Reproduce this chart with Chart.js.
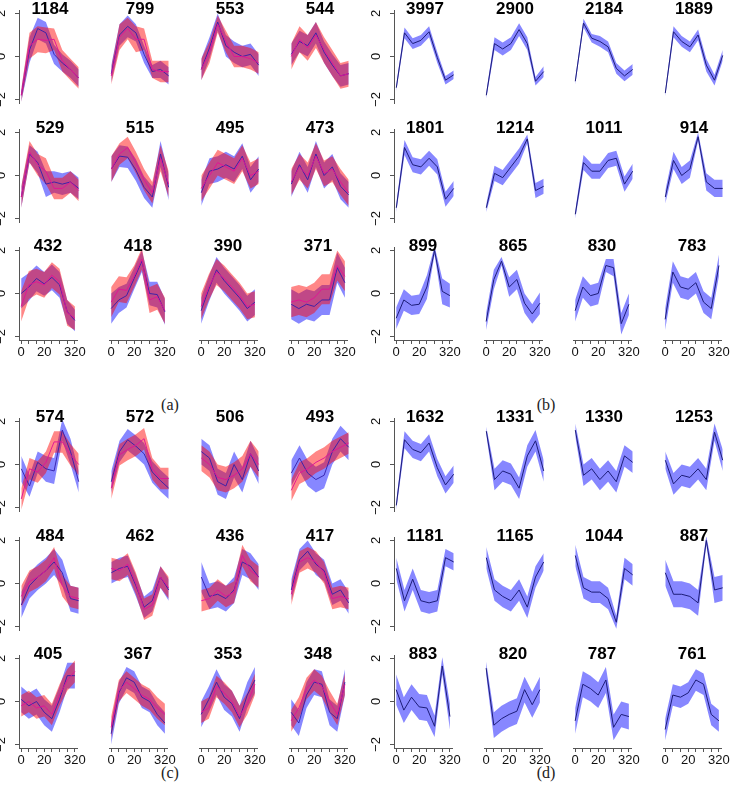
<!DOCTYPE html>
<html>
<head>
<meta charset="utf-8">
<script src="https://cdn.jsdelivr.net/npm/chart.js@4.4.1/dist/chart.umd.min.js"></script>
<style>
body { margin: 0; background: #fff; width: 735px; height: 795px; position: relative; overflow: hidden; }
canvas { position: absolute; }
.cap { position: absolute; font-family: "Liberation Serif", "DejaVu Serif", serif; font-size: 16px; color: #222; transform: translate(-50%, -50%); }
</style>
</head>
<body>
<div class="cap" style="left:170px;top:405px">(a)</div>
<div class="cap" style="left:546px;top:405px">(b)</div>
<div class="cap" style="left:170px;top:773px">(c)</div>
<div class="cap" style="left:546px;top:773px">(d)</div>
<script>
// x positions of the 8 samples and the tick labels R printed under them
const xIdx = [0, 1, 2, 3, 4, 5, 6, 7];
const xTickText = { 0: '0', 3: '20', 7: '320' };
const yTicks = [-2, 0, 2];

// ---- panel (a): two groups, blue and red ----
const aTitles = ['1184', '799', '553', '544', '529', '515', '495', '473', '432', '418', '390', '371'];
const aBlue = [
  [-1.8, 0.3, 1.3, 1.1, 0.1, -0.3, -0.6, -1.0],
  [-0.8, 1.0, 1.4, 1.1, 0.1, -0.7, -0.6, -0.9],
  [-0.6, 0.4, 1.6, 0.5, 0.2, 0.0, 0.1, -0.4],
  [0.1, 0.7, 0.5, 1.1, 0.2, -0.4, -0.9, -0.8],
  [-1.0, 1.0, 0.6, -0.4, -0.3, -0.4, -0.3, -0.6],
  [0.3, 0.9, 0.85, 0.25, -0.55, -1.0, 1.0, -0.55],
  [-0.8, 0.2, 0.3, 0.5, 0.3, 0.9, -0.2, 0.3],
  [-0.4, 0.5, -0.2, 1.0, 0.0, 0.4, -0.5, -0.9],
  [0.0, 0.3, 0.7, 0.45, 0.75, 0.4, -0.85, -1.25],
  [-0.7, -0.3, -0.1, 0.7, 1.5, 0.0, -0.05, -0.85],
  [-0.8, 0.2, 1.1, 0.6, 0.2, -0.2, -0.7, -0.4],
  [-0.5, -0.7, -0.5, -0.6, -0.3, -0.3, 1.2, 0.5]
];
const aBlueSd = [
  [0.3, 0.6, 0.5, 0.5, 0.45, 0.4, 0.4, 0.4],
  [0.4, 0.5, 0.5, 0.4, 0.4, 0.3, 0.4, 0.4],
  [0.5, 0.5, 0.4, 0.5, 0.5, 0.5, 0.5, 0.5],
  [0.5, 0.5, 0.5, 0.5, 0.5, 0.5, 0.5, 0.5],
  [0.5, 0.4, 0.5, 0.6, 0.5, 0.5, 0.5, 0.5],
  [0.6, 0.5, 0.5, 0.5, 0.5, 0.5, 0.6, 0.6],
  [0.6, 0.6, 0.6, 0.6, 0.6, 0.6, 0.6, 0.6],
  [0.6, 0.6, 0.6, 0.6, 0.6, 0.6, 0.6, 0.6],
  [0.7, 0.65, 0.6, 0.55, 0.6, 0.6, 0.55, 0.5],
  [0.7, 0.6, 0.55, 0.5, 0.5, 0.55, 0.6, 0.6],
  [0.6, 0.6, 0.6, 0.6, 0.6, 0.6, 0.6, 0.6],
  [0.7, 0.7, 0.7, 0.7, 0.7, 0.7, 0.7, 0.7]
];
const aRed = [
  [-1.8, 0.5, 0.8, 0.75, 0.8, -0.2, -0.6, -1.0],
  [-0.9, 0.9, 1.3, 0.8, 0.8, -0.6, -0.7, -0.7],
  [-0.6, 0.2, 1.5, 0.7, 0.0, 0.0, -0.1, -0.3],
  [0.0, 0.8, 0.4, 1.0, 0.3, -0.3, -0.9, -0.8],
  [-1.0, 1.1, 0.5, 0.2, -0.6, -0.6, -0.3, -0.7],
  [0.3, 1.0, 1.3, 0.6, -0.2, -0.8, 0.8, -0.4],
  [-0.6, 0.0, 0.6, 0.4, 0.2, 0.8, 0.0, 0.2],
  [-0.3, 0.4, 0.0, 0.9, 0.1, 0.3, -0.3, -0.8],
  [-0.6, 0.4, 0.55, 0.4, 0.85, 0.55, -0.9, -1.15],
  [-0.4, 0.2, 0.15, 0.8, 1.6, -0.3, -0.15, -0.8],
  [-0.6, 0.3, 1.0, 0.7, 0.3, -0.1, -0.6, -0.5],
  [-0.4, -0.3, -0.4, -0.2, 0.2, 0.2, 1.3, 0.8]
];
const aRedSd = [
  [0.3, 0.6, 0.6, 0.6, 0.5, 0.5, 0.5, 0.5],
  [0.4, 0.6, 0.5, 0.6, 0.5, 0.4, 0.5, 0.5],
  [0.5, 0.5, 0.4, 0.5, 0.5, 0.5, 0.5, 0.5],
  [0.6, 0.6, 0.6, 0.6, 0.6, 0.6, 0.6, 0.6],
  [0.5, 0.5, 0.5, 0.6, 0.5, 0.5, 0.5, 0.5],
  [0.6, 0.5, 0.5, 0.5, 0.5, 0.5, 0.6, 0.6],
  [0.6, 0.6, 0.6, 0.6, 0.6, 0.6, 0.6, 0.6],
  [0.6, 0.6, 0.6, 0.6, 0.6, 0.6, 0.6, 0.6],
  [0.7, 0.65, 0.6, 0.6, 0.6, 0.6, 0.6, 0.55],
  [0.7, 0.6, 0.6, 0.5, 0.5, 0.6, 0.6, 0.6],
  [0.6, 0.6, 0.6, 0.6, 0.6, 0.6, 0.6, 0.6],
  [0.7, 0.7, 0.7, 0.7, 0.7, 0.7, 0.7, 0.7]
];

// ---- panel (b): one group ----
const bTitles = ['3997', '2900', '2184', '1889', '1801', '1214', '1011', '914', '899', '865', '830', '783'];
const bMean = [
  [-1.45, 1.1, 0.6, 0.75, 1.15, -0.05, -1.1, -0.85],
  [-1.8, 0.6, 0.35, 0.6, 1.25, 0.6, -1.15, -0.7],
  [-1.15, 1.55, 0.85, 0.7, 0.45, -0.55, -0.9, -0.6],
  [-1.7, 1.15, 0.7, 0.45, 1.0, -0.4, -1.1, 0.05],
  [-1.5, 1.3, 0.5, 0.4, 0.8, 0.4, -1.1, -0.6],
  [-1.5, 0.1, -0.1, 0.4, 0.9, 1.7, -0.7, -0.5],
  [-1.8, 0.6, 0.2, 0.2, 0.7, 0.8, -0.4, 0.2],
  [-1.0, 0.7, 0.0, 0.3, 1.8, -0.3, -0.6, -0.6],
  [-1.15, -0.3, -0.55, -0.5, 0.3, 2.0, 0.1, -0.1],
  [-1.3, 0.65, 1.5, 0.3, 0.65, -0.45, -0.95, -0.45],
  [-0.8, 0.3, -0.1, 0.0, 1.3, 1.2, -1.4, -0.5],
  [-1.2, 1.0, 0.3, 0.2, 0.5, -0.4, -0.7, 1.3]
];
const bSd = [
  [0.15, 0.25, 0.25, 0.25, 0.25, 0.25, 0.2, 0.2],
  [0.15, 0.3, 0.3, 0.3, 0.3, 0.3, 0.2, 0.25],
  [0.15, 0.2, 0.2, 0.25, 0.25, 0.25, 0.25, 0.25],
  [0.15, 0.25, 0.25, 0.25, 0.25, 0.3, 0.25, 0.25],
  [0.2, 0.35, 0.35, 0.35, 0.35, 0.35, 0.35, 0.35],
  [0.2, 0.35, 0.35, 0.35, 0.35, 0.2, 0.35, 0.35],
  [0.2, 0.35, 0.35, 0.35, 0.35, 0.35, 0.35, 0.35],
  [0.3, 0.4, 0.4, 0.4, 0.2, 0.4, 0.4, 0.4],
  [0.5, 0.5, 0.45, 0.45, 0.55, 0.2, 0.6, 0.55],
  [0.4, 0.45, 0.2, 0.45, 0.45, 0.45, 0.45, 0.5],
  [0.5, 0.5, 0.5, 0.5, 0.3, 0.4, 0.5, 0.5],
  [0.5, 0.5, 0.5, 0.5, 0.5, 0.5, 0.5, 0.5]
];

// ---- panel (c): two groups ----
const cTitles = ['574', '572', '506', '493', '484', '462', '436', '417', '405', '367', '353', '348'];
const cBlue = [
  [-0.2, -1.0, 0.1, -0.2, -0.3, 1.6, 0.6, -0.8],
  [-0.8, 0.6, 1.15, 0.85, 0.5, -0.35, -0.75, -1.1],
  [0.6, 0.3, -0.8, -1.0, 0.0, -0.7, 0.5, -0.3],
  [-0.4, 0.3, -0.4, -0.7, -0.5, 0.6, 1.2, 0.8],
  [-1.0, -0.1, 0.3, 0.6, 1.0, 0.5, -0.7, -0.8],
  [0.5, 0.7, 0.8, -0.1, -1.1, -0.8, 0.3, -0.3],
  [0.3, -0.6, -0.5, -0.7, -0.3, 1.0, 0.8, 0.3],
  [-0.3, 1.1, 1.5, 0.9, 0.6, -0.5, -0.3, -0.9],
  [0.1, -0.2, 0.0, -0.5, -0.8, 0.1, 1.2, 1.2],
  [-1.5, 0.4, 1.1, 0.9, 0.2, 0.0, -0.6, -1.0],
  [-0.6, 0.1, 0.9, 0.2, -0.1, -0.8, 0.3, 1.0],
  [-0.5, -1.0, 0.3, 0.9, 0.8, -0.5, -0.8, 0.9]
];
const cBlueSd = [
  [0.6, 0.5, 0.5, 0.6, 0.6, 0.5, 0.6, 0.5],
  [0.5, 0.5, 0.5, 0.5, 0.5, 0.5, 0.5, 0.5],
  [0.6, 0.6, 0.6, 0.6, 0.6, 0.6, 0.6, 0.6],
  [0.6, 0.6, 0.6, 0.6, 0.6, 0.6, 0.6, 0.6],
  [0.6, 0.6, 0.6, 0.6, 0.6, 0.6, 0.6, 0.6],
  [0.5, 0.5, 0.5, 0.5, 0.5, 0.5, 0.5, 0.5],
  [0.7, 0.6, 0.6, 0.6, 0.6, 0.6, 0.6, 0.6],
  [0.5, 0.5, 0.5, 0.5, 0.5, 0.5, 0.5, 0.5],
  [0.6, 0.6, 0.6, 0.6, 0.6, 0.6, 0.6, 0.6],
  [0.5, 0.5, 0.5, 0.5, 0.5, 0.5, 0.5, 0.5],
  [0.6, 0.6, 0.6, 0.6, 0.6, 0.6, 0.6, 0.6],
  [0.6, 0.6, 0.6, 0.6, 0.6, 0.6, 0.6, 0.6]
];
const cRed = [
  [-1.6, -0.2, -0.35, 0.1, 1.05, 1.05, 0.45, 0.0],
  [-1.1, 0.45, 0.7, 0.9, 1.2, -0.2, -0.65, -0.65],
  [0.3, 0.0, -0.6, -0.7, -0.5, -0.2, 0.5, 0.0],
  [-1.2, -0.4, -0.2, 0.1, 0.3, 0.6, 0.8, 1.0],
  [-0.6, 0.1, 0.3, 0.6, 1.2, -0.1, -0.6, -0.7],
  [0.7, 0.6, 0.9, 0.0, -1.2, -1.0, 0.3, -0.2],
  [-0.8, -0.7, -0.3, -0.6, -0.4, 1.3, 0.6, 0.3],
  [-0.5, 1.0, 1.2, 1.0, 0.5, -0.7, -0.6, -0.7],
  [-0.2, 0.0, -0.3, -0.2, -0.6, 0.3, 1.0, 1.4],
  [-1.2, 0.5, 0.9, 0.6, 0.3, 0.1, -0.3, -0.6],
  [-0.5, -0.3, 0.7, 0.4, 0.0, -0.7, -0.1, 0.8],
  [-0.9, -0.3, 0.6, 1.0, 0.7, 0.0, -0.6, 0.8]
];
const cRedSd = [
  [0.5, 0.5, 0.5, 0.5, 0.5, 0.5, 0.5, 0.5],
  [0.5, 0.5, 0.5, 0.5, 0.5, 0.5, 0.5, 0.5],
  [0.6, 0.6, 0.6, 0.6, 0.6, 0.6, 0.6, 0.6],
  [0.5, 0.5, 0.5, 0.5, 0.5, 0.5, 0.5, 0.5],
  [0.5, 0.5, 0.5, 0.5, 0.5, 0.5, 0.5, 0.5],
  [0.5, 0.5, 0.5, 0.5, 0.5, 0.5, 0.5, 0.5],
  [0.5, 0.5, 0.5, 0.5, 0.5, 0.5, 0.5, 0.5],
  [0.5, 0.5, 0.5, 0.5, 0.5, 0.5, 0.5, 0.5],
  [0.5, 0.5, 0.5, 0.5, 0.5, 0.5, 0.5, 0.5],
  [0.5, 0.5, 0.5, 0.5, 0.5, 0.5, 0.5, 0.5],
  [0.5, 0.5, 0.5, 0.5, 0.5, 0.5, 0.5, 0.5],
  [0.5, 0.5, 0.5, 0.5, 0.5, 0.5, 0.5, 0.5]
];

// ---- panel (d): one group ----
const dTitles = ['1632', '1331', '1330', '1253', '1181', '1165', '1044', '887', '883', '820', '787', '761'];
const dMean = [
  [-1.9, 1.15, 0.7, 0.55, 1.0, -0.15, -0.95, -0.45],
  [1.55, -0.7, -0.3, -0.45, -1.1, 0.4, 1.1, -0.3],
  [1.6, -0.5, -0.2, -0.7, -0.3, -0.8, 0.4, 0.1],
  [0.2, -0.9, -0.5, -0.6, -0.2, -0.7, 1.5, 0.2],
  [0.7, -0.8, 0.2, -0.8, -0.9, -0.8, 1.2, 1.0],
  [1.2, -0.3, -0.6, -0.8, -0.3, -1.1, 0.3, 1.0],
  [1.3, -0.2, -0.4, -0.4, -0.7, -1.8, 0.7, 0.4],
  [0.5, -0.5, -0.5, -0.6, -0.9, 2.0, -0.3, -0.2],
  [0.55, -0.4, 0.2, -0.25, -0.3, -1.15, 1.65, -0.7],
  [1.55, -1.1, -0.8, -0.6, -0.45, 0.55, -0.15, 0.55],
  [-0.9, 0.8, 0.6, 0.3, 1.0, -1.2, -0.6, -0.7],
  [-1.3, 0.3, 0.2, 0.4, 1.0, 0.8, -0.6, -0.9]
];
const dSd = [
  [0.2, 0.4, 0.4, 0.4, 0.4, 0.4, 0.4, 0.4],
  [0.2, 0.5, 0.5, 0.5, 0.5, 0.5, 0.5, 0.5],
  [0.3, 0.5, 0.5, 0.5, 0.5, 0.5, 0.5, 0.5],
  [0.4, 0.5, 0.5, 0.5, 0.5, 0.5, 0.4, 0.5],
  [0.5, 0.5, 0.5, 0.5, 0.5, 0.5, 0.4, 0.4],
  [0.5, 0.5, 0.5, 0.5, 0.5, 0.5, 0.5, 0.4],
  [0.5, 0.5, 0.5, 0.5, 0.5, 0.3, 0.5, 0.5],
  [0.6, 0.6, 0.6, 0.6, 0.6, 0.2, 0.6, 0.6],
  [0.7, 0.6, 0.6, 0.6, 0.6, 0.5, 0.4, 0.6],
  [0.3, 0.6, 0.6, 0.6, 0.6, 0.6, 0.6, 0.6],
  [0.6, 0.6, 0.6, 0.6, 0.6, 0.6, 0.6, 0.6],
  [0.5, 0.5, 0.5, 0.5, 0.5, 0.5, 0.5, 0.5]
];

const BLUE_BAND = 'rgba(0,0,255,0.47)';
const RED_BAND = 'rgba(255,0,0,0.47)';
const BLUE_LINE = 'rgba(50,30,170,0.9)';
const RED_LINE = 'rgba(225,20,150,0.95)';
const NAVY_LINE = '#1c1c78';
const FONT = '"Liberation Sans", Arial, Helvetica, sans-serif';

// bold number over every cell, drawn into the plot region like R's main=
const cellTitle = {
  id: 'cellTitle',
  afterDraw(chart, args, opts) {
    const a = chart.chartArea, ctx = chart.ctx;
    ctx.save();
    ctx.font = 'bold 17px ' + FONT;
    ctx.fillStyle = '#000';
    ctx.textAlign = 'center';
    ctx.textBaseline = 'middle';
    ctx.fillText(opts.text, (a.left + a.right) / 2, a.top - 1);
    ctx.restore();
  }
};

function pts(arr) {
  return arr.map((v, i) => ({ x: xIdx[i], y: v }));
}

// g = position of the group (0 = blue, drawn first / lowest; 1 = red on top)
function groupSets(mean, sd, band, line, g) {
  const lo = mean.map((v, i) => v - sd[i]);
  const hi = mean.map((v, i) => v + sd[i]);
  return {
    band: [
      { data: pts(lo), borderWidth: 0, pointRadius: 0, fill: false, clip: false, order: 20 - g * 4 },
      { data: pts(hi), borderWidth: 0, pointRadius: 0, fill: '-1', backgroundColor: band, clip: false, order: 19 - g * 4 }
    ],
    line: { data: pts(mean), borderColor: line, borderWidth: 1, pointRadius: 0, fill: false, clip: false, order: 5 - g }
  };
}

function cell(left, top, title, groups, showY, showX) {
  const cv = document.createElement('canvas');
  cv.width = 92; cv.height = 127;
  cv.style.left = (left - 24) + 'px';
  cv.style.top = (top - 14) + 'px';
  document.body.appendChild(cv);
  let datasets = [];
  groups.forEach(g => { datasets = datasets.concat(g.band); });
  groups.forEach(g => { datasets.push(g.line); });
  new Chart(cv.getContext('2d'), {
    type: 'line',
    data: { datasets: datasets },
    options: {
      responsive: false,
      animation: false,
      devicePixelRatio: 1,
      layout: { autoPadding: false, padding: { top: 14, right: 6, left: 0, bottom: 0 } },
      elements: { line: { tension: 0 } },
      plugins: { legend: { display: false }, tooltip: { enabled: false }, cellTitle: { text: title } },
      scales: {
        x: {
          type: 'linear', min: -0.28, max: 7.28,
          afterBuildTicks: s => { s.ticks = xIdx.map(v => ({ value: v })); },
          afterFit: s => { s.height = 20; },
          grid: { display: showX, drawOnChartArea: false, tickLength: 4, color: '#555' },
          border: { display: showX, color: '#555' },
          ticks: {
            display: showX, autoSkip: false, maxRotation: 0, padding: 1, color: '#111',
            font: { family: FONT, size: 13 },
            callback: v => (xTickText[v] !== undefined ? xTickText[v] : '')
          }
        },
        y: {
          min: -2.16, max: 2.16,
          afterBuildTicks: s => { s.ticks = yTicks.map(v => ({ value: v })); },
          afterFit: s => { s.width = 24; },
          grid: { display: showY, drawOnChartArea: false, tickLength: 4, color: '#555' },
          border: { display: showY, color: '#555' },
          ticks: {
            display: showY, minRotation: 90, maxRotation: 90, crossAlign: 'center', padding: 6, color: '#111',
            font: { family: FONT, size: 13 },
            callback: v => (v < 0 ? '\u2212' + Math.abs(v) : String(v))
          }
        }
      }
    },
    plugins: [cellTitle]
  });
}

const leftsAC = [19, 109, 199, 289];
const leftsBD = [394, 484, 573, 663];
const topsAB = [10, 129, 247];
const topsCD = [418, 537, 655];

function twoGroupPanel(lefts, tops, titles, blue, blueSd, red, redSd) {
  titles.forEach((t, k) => {
    const r = Math.floor(k / 4), c = k % 4;
    cell(lefts[c], tops[r], t, [
      groupSets(blue[k], blueSd[k], BLUE_BAND, BLUE_LINE, 0),
      groupSets(red[k], redSd[k], RED_BAND, RED_LINE, 1)
    ], c === 0, r === 2);
  });
}

function oneGroupPanel(lefts, tops, titles, mean, sd) {
  titles.forEach((t, k) => {
    const r = Math.floor(k / 4), c = k % 4;
    cell(lefts[c], tops[r], t, [groupSets(mean[k], sd[k], BLUE_BAND, NAVY_LINE, 0)], c === 0, r === 2);
  });
}

twoGroupPanel(leftsAC, topsAB, aTitles, aBlue, aBlueSd, aRed, aRedSd);
oneGroupPanel(leftsBD, topsAB, bTitles, bMean, bSd);
twoGroupPanel(leftsAC, topsCD, cTitles, cBlue, cBlueSd, cRed, cRedSd);
oneGroupPanel(leftsBD, topsCD, dTitles, dMean, dSd);
</script>
</body>
</html>
